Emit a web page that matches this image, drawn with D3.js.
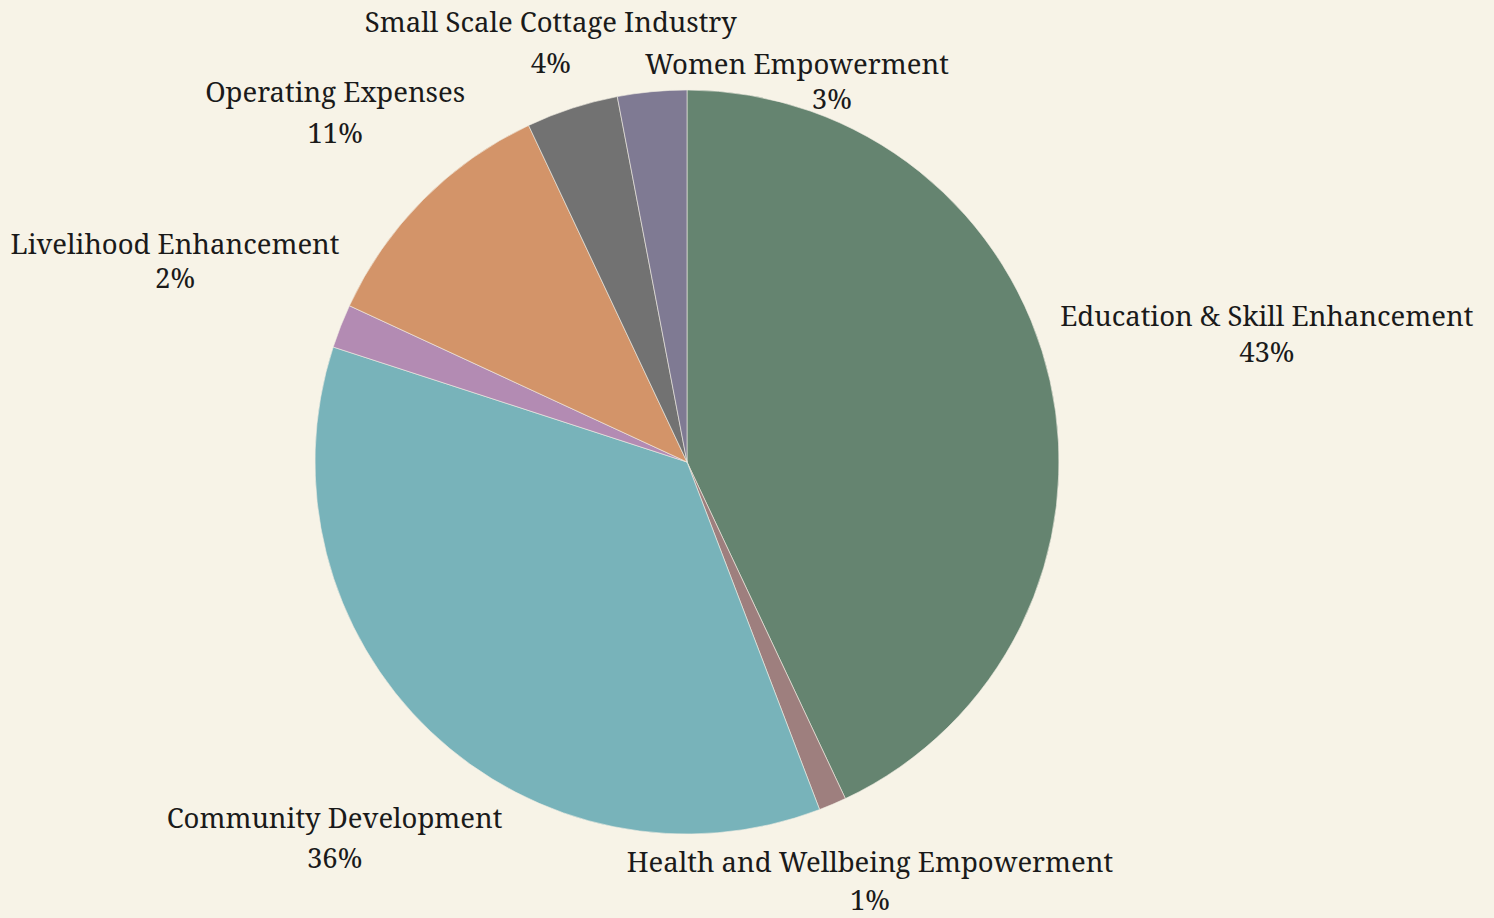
<!DOCTYPE html>
<html>
<head>
<meta charset="utf-8">
<script src="https://cdn.jsdelivr.net/npm/d3@7"></script>
<style>
  body { margin: 0; background: #f7f3e7; }
  text { font-family: "Noto Serif", "Liberation Serif", serif; fill: #1a1a1a; }
</style>
</head>
<body>
<div id="chart"></div>
<script>
// slice data (percent of total)
var categories = ["Education & Skill Enhancement", "Health and Wellbeing Empowerment",
  "Community Development", "Livelihood Enhancement", "Operating Expenses",
  "Small Scale Cottage Industry", "Women Empowerment"];
var values = [43.0, 1.2, 35.8, 1.9, 11.1, 4.0, 3.0];
var colors = ["#658470", "#9e7f7e", "#78b3ba", "#b38bb3", "#d39469", "#727272", "#7f7a93"];

// label nudges (px) from the default outside position, and offsets of the % line
var labelNudge = [[10, -55], [-206, 68], [72, 96], [-1, -72], [42, -98], [165, -76], [297, -18]];
var pctGap = [36, 38, 40, 34, 41, 41, 35];
var pctShift = [0, 0, 0, 0, 0, 0, 35];

var width = 1494, height = 918,
    cx = 687, cy = 462, radius = 372;

var svg = d3.select("#chart").append("svg")
    .attr("width", width)
    .attr("height", height)
    .style("background", "#f7f3e7");

var g = svg.append("g")
    .attr("transform", "translate(" + cx + "," + cy + ")");

var pie = d3.pie().sort(null).value(function(d) { return d; });
var arcs = pie(values);
var arc = d3.arc().innerRadius(0).outerRadius(radius);

g.selectAll("path")
  .data(arcs)
  .enter().append("path")
    .attr("d", arc)
    .attr("fill", function(d, i) { return colors[i]; })
    .attr("stroke", "#f2eee4")
    .attr("stroke-width", 0.6);

var total = d3.sum(values);

// labels: name on first line, percentage below
arcs.forEach(function(d, i) {
  var a = (d.startAngle + d.endAngle) / 2;
  var px = radius * Math.sin(a), py = -radius * Math.cos(a);
  var name = g.append("text")
      .attr("text-anchor", "middle")
      .style("font-size", "27.5px")
      .text(categories[i]);
  var w = name.node().getBBox().width;
  var x = px + (px < 0 ? -w / 2 : w / 2) + labelNudge[i][0];
  var y = py + labelNudge[i][1];
  name.attr("x", x).attr("y", y);
  g.append("text")
      .attr("text-anchor", "middle")
      .attr("x", x + pctShift[i])
      .attr("y", y + pctGap[i])
      .style("font-size", "27.5px")
      .text(Math.round(values[i] / total * 100) + "%");
});
</script>
</body>
</html>
